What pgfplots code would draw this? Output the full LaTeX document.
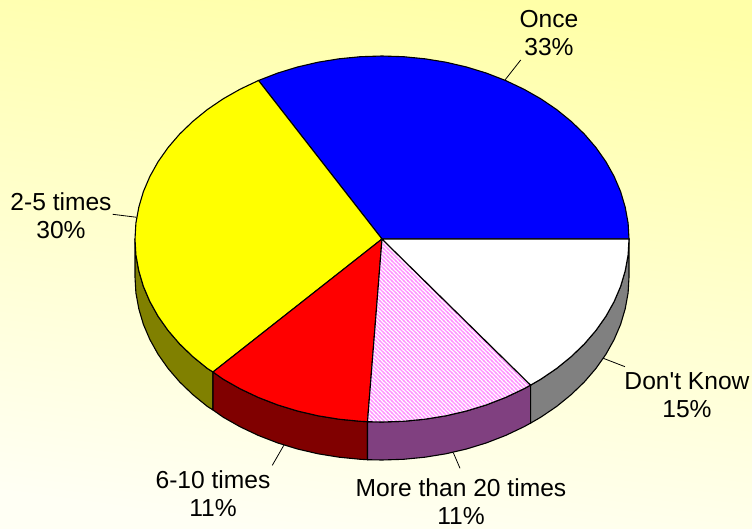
\documentclass[border=0pt]{standalone}
\usepackage{fontspec}
\setmainfont{Liberation Sans}
\newfontfamily\lsplain{Liberation Sans}
\usepackage{pgfplots}
\pgfplotsset{compat=1.18}
\usetikzlibrary{patterns}
\pgfdeclarepatternformonly{hatchpink}{\pgfqpoint{-1pt}{-1pt}}{\pgfqpoint{5pt}{5pt}}{\pgfqpoint{4pt}{4pt}}{
  \pgfsetlinewidth{1.25pt}
  \pgfpathmoveto{\pgfqpoint{-1pt}{5pt}}
  \pgfpathlineto{\pgfqpoint{5pt}{-1pt}}
  \pgfusepath{stroke}
}
\definecolor{bgtop}{RGB}{255,255,168}
\definecolor{bgbot}{RGB}{255,255,244}
\definecolor{wolive}{RGB}{128,128,0}
\definecolor{wmaroon}{RGB}{128,0,0}
\definecolor{wpurple}{RGB}{128,64,128}
\definecolor{wgray}{RGB}{128,128,128}
\definecolor{hatchc}{RGB}{255,145,255}
\definecolor{tyellow}{RGB}{255,255,0}
\definecolor{tblue}{RGB}{0,0,255}
\definecolor{tred}{RGB}{255,0,0}
\begin{document}
\begin{tikzpicture}
\begin{axis}[hide axis, scale only axis, width=752pt, height=529pt,
  xmin=0, xmax=752, ymin=0, ymax=529, y dir=reverse]
\path[shade, top color=bgtop, bottom color=bgbot, shading angle=-8] (axis cs:0,0) rectangle (axis cs:752,529);
% side walls
\addplot[fill=wolive, draw=black, line width=1.1pt] coordinates {
(135,239)(135.9,254.9)(138.8,270.8)(143.4,286.4)(149.9,301.6)(158.1,316.3)(168.1,330.5)(179.7,344)(192.8,356.6)(207.3,368.4)(213,372)
(213,410)(207.3,406.4)(192.8,394.6)(179.7,382)(168.1,368.5)(158.1,354.3)(149.9,339.6)(143.4,324.4)(138.8,308.8)(135.9,292.9)(135,277)} -- cycle;
\addplot[fill=wmaroon, draw=black, line width=1.1pt] coordinates {
(213,372)(223.2,379.2)(240.3,388.9)(258.5,397.5)(277.6,404.9)(297.5,411)(318.1,415.8)(339.1,419.2)(360.5,421.3)(367.5,421.7)
(367.5,459.7)(360.5,459.3)(339.1,457.2)(318.1,453.8)(297.5,449)(277.6,442.9)(258.5,435.5)(240.3,426.9)(223.2,417.2)(213,410)} -- cycle;
\addplot[fill=wpurple, draw=black, line width=1.1pt] coordinates {
(367.5,421.7)(382,422)(403.5,421.3)(424.9,419.2)(445.9,415.8)(466.5,411)(486.4,404.9)(505.5,397.5)(523.7,388.9)(530.6,385.1)
(530.6,423.1)(523.7,426.9)(505.5,435.5)(486.4,442.9)(466.5,449)(445.9,453.8)(424.9,457.2)(403.5,459.3)(382,460)(367.5,459.7)} -- cycle;
\addplot[fill=wgray, draw=black, line width=1.1pt] coordinates {
(530.6,385.1)(540.8,379.2)(556.7,368.4)(571.2,356.6)(584.3,344)(595.9,330.5)(605.9,316.3)(614.1,301.6)(620.6,286.4)(625.2,270.8)(628.1,254.9)(629,239)
(629,277)(628.1,292.9)(625.2,308.8)(620.6,324.4)(614.1,339.6)(605.9,354.3)(595.9,368.5)(584.3,382)(571.2,394.6)(556.7,406.4)(540.8,417.2)(530.6,423.1)} -- cycle;
% top faces
\addplot[fill=tblue, draw=black, line width=1.1pt] coordinates {
(382,239)(629,239)(628.1,223.1)(625.2,207.2)(620.6,191.6)(614.1,176.4)(605.9,161.7)(595.9,147.5)(584.3,134)(571.2,121.4)(556.7,109.6)(540.8,98.8)(523.7,89.1)(505.5,80.5)(486.4,73.1)(466.5,67)(445.9,62.2)(424.9,58.8)(403.5,56.7)(382,56)(360.5,56.7)(339.1,58.8)(318.1,62.2)(297.5,67)(277.6,73.1)(258.5,80.5)} -- cycle;
\addplot[fill=tyellow, draw=black, line width=1.1pt] coordinates {
(382,239)(258.5,80.5)(240.3,89.1)(223.2,98.8)(207.3,109.6)(192.8,121.4)(179.7,134)(168.1,147.5)(158.1,161.7)(149.9,176.4)(143.4,191.6)(138.8,207.2)(135.9,223.1)(135,239)(135.9,254.9)(138.8,270.8)(143.4,286.4)(149.9,301.6)(158.1,316.3)(168.1,330.5)(179.7,344)(192.8,356.6)(207.3,368.4)(213,372)} -- cycle;
\addplot[fill=tred, draw=black, line width=1.1pt] coordinates {
(382,239)(213,372)(223.2,379.2)(240.3,388.9)(258.5,397.5)(277.6,404.9)(297.5,411)(318.1,415.8)(339.1,419.2)(360.5,421.3)(367.5,421.7)} -- cycle;
\addplot[fill=white, draw=none] coordinates {
(382,239)(367.5,421.7)(382,422)(403.5,421.3)(424.9,419.2)(445.9,415.8)(466.5,411)(486.4,404.9)(505.5,397.5)(523.7,388.9)(530.6,385.1)} -- cycle;
\addplot[pattern=hatchpink, pattern color=hatchc, draw=black, line width=1.1pt] coordinates {
(382,239)(367.5,421.7)(382,422)(403.5,421.3)(424.9,419.2)(445.9,415.8)(466.5,411)(486.4,404.9)(505.5,397.5)(523.7,388.9)(530.6,385.1)} -- cycle;
\addplot[fill=white, draw=black, line width=1.1pt] coordinates {
(382,239)(530.6,385.1)(540.8,379.2)(556.7,368.4)(571.2,356.6)(584.3,344)(595.9,330.5)(605.9,316.3)(614.1,301.6)(620.6,286.4)(625.2,270.8)(628.1,254.9)(629,239)} -- cycle;
% leader lines
\addplot[draw=black, line width=0.8pt] coordinates {(505,80)(520.7,60)};
\addplot[draw=black, line width=0.8pt] coordinates {(136.7,217.3)(112.7,214.3)};
\addplot[draw=black, line width=0.8pt] coordinates {(284,445)(272.3,465.3)};
\addplot[draw=black, line width=0.8pt] coordinates {(453.3,452.7)(460,468.3)};
\addplot[draw=black, line width=0.8pt] coordinates {(603.3,358.3)(625,366.7)};
% labels
\begin{scope}[every node/.style={align=center, font=\lsplain\fontsize{24.6}{28}\selectfont, inner sep=0pt}]
\node at (axis cs:549,33) {Once\\33\%};
\node at (axis cs:61,216) {2-5 times\\30\%};
\node at (axis cs:213,494) {6-10 times\\11\%};
\node at (axis cs:461,502) {More than 20 times\\11\%};
\node at (axis cs:687,395) {Don't Know\\15\%};
\end{scope}
\end{axis}
\end{tikzpicture}
\end{document}
